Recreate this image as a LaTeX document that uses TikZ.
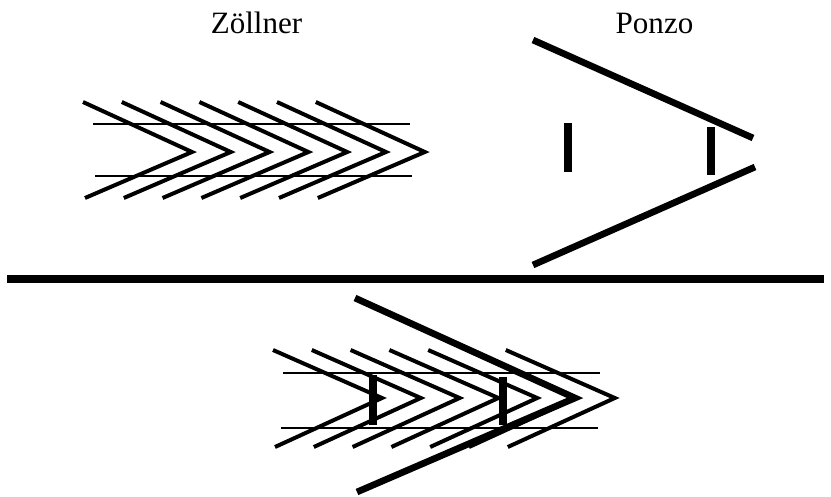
\documentclass[tikz,border=0pt]{standalone}
\usepackage{fontspec}
\setmainfont{Liberation Serif}
\usetikzlibrary{positioning}
\definecolor{illusionInk}{HTML}{000000}
\tikzset{
  illusionlabel/.style={font=\fontsize{26.5}{30}\selectfont,text=illusionInk,inner sep=0pt,anchor=base},
  finline/.style={draw=illusionInk,line width=3.4pt,line join=miter},
  parallelline/.style={draw=illusionInk,line width=2.1pt},
  railline/.style={draw=illusionInk,line width=5.7pt},
  barline/.style={draw=illusionInk,line width=7pt},
  dividerline/.style={draw=illusionInk,line width=6.4pt}
}

\begin{document}
\begin{tikzpicture}[x=0.03cm,y=-0.03cm]
    \useasboundingbox (0,0) rectangle (831,496);
    % labels
    \node[illusionlabel] (zoellner) at (256.5,33) {Zöllner};
    \node[illusionlabel] (ponzo) at (654.5,33) {Ponzo};
    % Zoellner: fins and parallels
    \foreach \k in {0,...,6}
      \draw[finline] ({83+38.8*\k},102) -- ({192+38.8*\k},152) -- ({85+38.8*\k},198);
    \draw[parallelline] (93,124) -- (410,124);
    \draw[parallelline] (95,176) -- (412,176);
    % Ponzo: rails and bars
    \draw[railline] (533,40) -- (753,138);
    \draw[railline] (533,265) -- (755,167);
    \draw[barline] (568,123) -- (568,172);
    \draw[barline] (711,127) -- (711,175);
    % divider
    \draw[dividerline] (7,279) -- (824,279);
    % combined figure
    \foreach \k in {0,...,6}
      \draw[finline] ({273+38.8*\k},350) -- ({382+38.8*\k},398) -- ({275+38.8*\k},447);
    \draw[parallelline] (283,373) -- (600,373);
    \draw[parallelline] (281,428) -- (598,428);
    \draw[railline,line join=miter] (355,298) -- (575,398) -- (357,492);
    \draw[barline] (373,375) -- (373,425);
    \draw[barline] (503,377) -- (503,425);
  \end{tikzpicture}
\end{document}
